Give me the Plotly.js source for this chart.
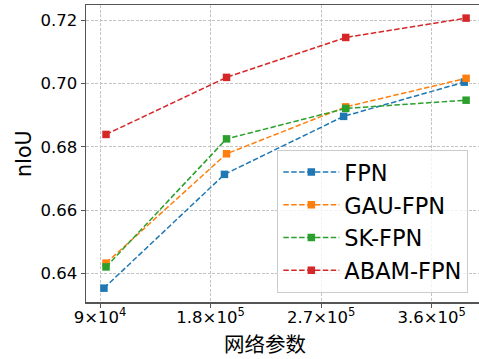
<!DOCTYPE html>
<html>
<head>
<meta charset="utf-8">
<script src="https://cdn.plot.ly/plotly-3.0.1.min.js"></script>
<style>
  html, body { margin: 0; padding: 0; background: #fff; }
  #chart { width: 479px; height: 359px; }
</style>
</head>
<body>
<div id="chart"></div>
<script>
// Parameter counts (x) and nIoU (y) per model
const seriesNames = ['FPN', 'GAU-FPN', 'SK-FPN', 'ABAM-FPN'];
const fpnParams   = [93200, 191300, 288300, 386500];
const fpnIoU      = [0.6354, 0.6713, 0.6896, 0.7004];
const gauParams   = [94900, 193000, 290000, 388000];
const gauIoU      = [0.6433, 0.6778, 0.6926, 0.7016];
const skParams    = [94900, 193000, 290000, 388000];
const skIoU       = [0.6421, 0.6825, 0.6921, 0.6947];
const abamParams  = [94900, 193000, 290000, 388000];
const abamIoU     = [0.6839, 0.7019, 0.7145, 0.7206];

const xTickVals  = [90000, 180000, 270000, 360000];
const xTickText  = ['9×10<sup>4</sup>', '1.8×10<sup>5</sup>', '2.7×10<sup>5</sup>', '3.6×10<sup>5</sup>'];
const yTickVals  = [0.64, 0.66, 0.68, 0.70, 0.72];
const yTickText  = ['0.64', '0.66', '0.68', '0.70', '0.72'];

const colors = ['#1f77b4', '#ff7f0e', '#2ca02c', '#d62728'];
const xs = [fpnParams, gauParams, skParams, abamParams];
const ys = [fpnIoU, gauIoU, skIoU, abamIoU];

const traces = seriesNames.map((name, i) => ({
  type: 'scatter',
  mode: 'lines+markers',
  name: name,
  legendgroup: 'g' + i,
  x: xs[i],
  y: ys[i],
  line: { color: colors[i], width: 1.5, dash: '5.5px,2.4px' },
  marker: { symbol: 'square', size: 7.5, color: colors[i] }
}));

const font = 'DejaVu Sans, Noto Sans CJK SC, sans-serif';
const gridDash = '3px,1.5px';

const layout = {
  width: 479,
  height: 359,
  margin: { l: 86, r: 0, t: 5, b: 57 },
  paper_bgcolor: '#ffffff',
  plot_bgcolor: '#ffffff',
  font: { family: font, color: '#000' },
  showlegend: true,
  xaxis: {
    range: [78600, 398500],
    tickvals: xTickVals,
    ticktext: xTickText,
    tickfont: { size: 16.5, family: font, color: '#000' },
    ticks: 'outside', ticklen: 4, tickwidth: 1, tickcolor: '#555',
    ticklabelstandoff: -4,
    showline: true, linecolor: '#555', linewidth: 1.5, mirror: true,
    showgrid: true, gridcolor: '#c4c4c4', gridwidth: 1, griddash: gridDash,
    zeroline: false
  },
  yaxis: {
    range: [0.631032, 0.724737],
    tickvals: yTickVals,
    ticktext: yTickText,
    tickfont: { size: 16.5, family: font, color: '#000' },
    ticks: 'outside', ticklen: 4, tickwidth: 1, tickcolor: '#555',
    showline: true, linecolor: '#555', linewidth: 1.5, mirror: false,
    showgrid: true, gridcolor: '#c4c4c4', gridwidth: 1, griddash: gridDash,
    zeroline: false
  },
  legend: {
    x: 0.4868, xanchor: 'left',
    y: 0.512, yanchor: 'top',
    bgcolor: 'rgba(255,255,255,0.8)',
    bordercolor: '#cccccc', borderwidth: 1,
    font: { size: 22.5, family: font, color: '#000' },
    itemwidth: 56,
    tracegroupgap: 0.5
  },
  annotations: [
    {
      text: '网络参数', xref: 'paper', yref: 'paper',
      x: 0.4555, y: 0, yshift: -41, xanchor: 'center', yanchor: 'middle',
      showarrow: false,
      font: { size: 20.5, family: 'Noto Sans CJK SC, sans-serif', color: '#000' }
    },
    {
      text: 'nIoU', xref: 'paper', yref: 'paper',
      x: 0, xshift: -62.5, y: 0.5, xanchor: 'center', yanchor: 'middle',
      textangle: -90, showarrow: false,
      font: { size: 20.5, family: font, color: '#000' }
    }
  ]
};

Plotly.newPlot('chart', traces, layout, { displayModeBar: false, staticPlot: true });
</script>
</body>
</html>
